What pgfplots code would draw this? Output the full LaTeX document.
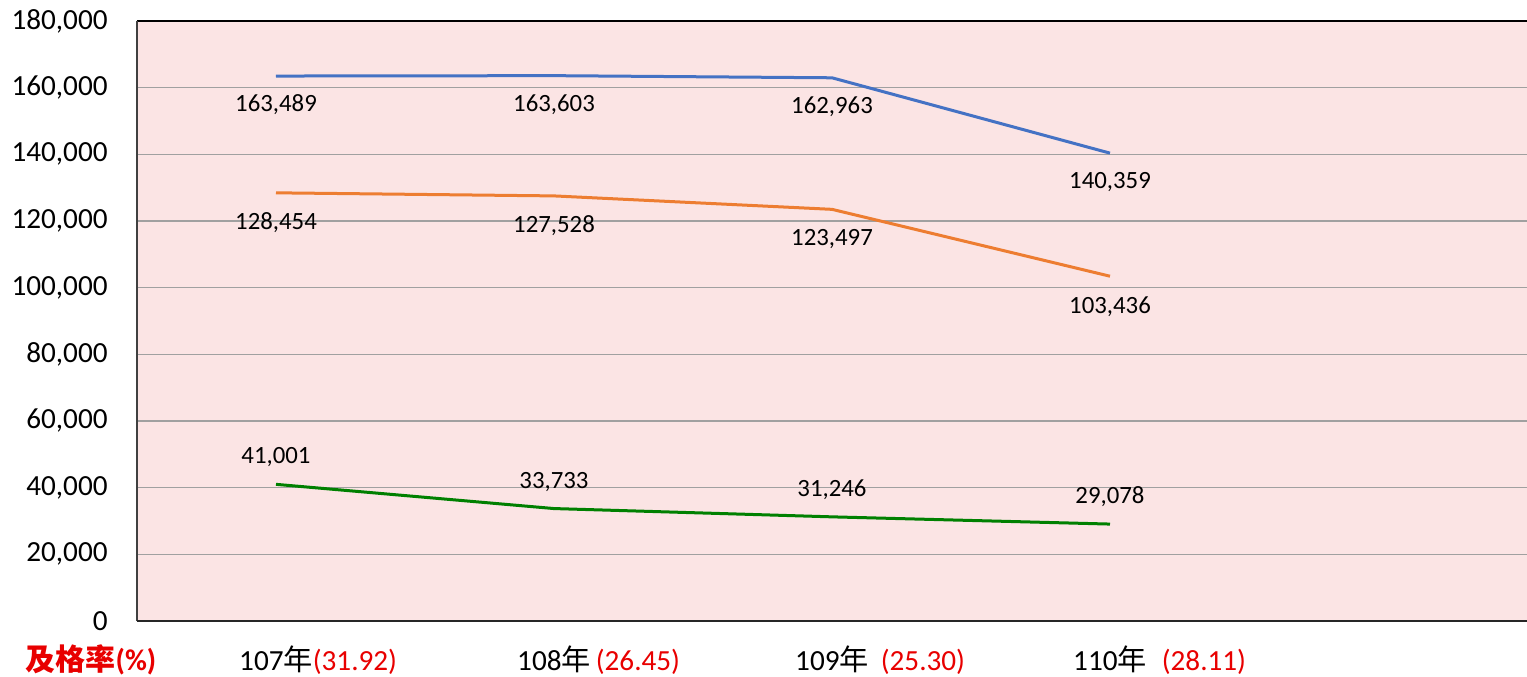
\documentclass[border=0pt]{standalone}
\usepackage{pgfplots}
\pgfplotsset{compat=1.18}
\usepackage{fontspec}
\setmainfont{Carlito}
\newfontfamily\cjk{Noto Sans CJK TC}
\definecolor{bgpink}{RGB}{251,228,228}
\definecolor{sblue}{RGB}{68,114,196}
\definecolor{sorange}{RGB}{237,125,49}
\definecolor{sgreen}{RGB}{0,128,0}
\definecolor{rred}{RGB}{232,0,0}
\definecolor{gridgray}{RGB}{160,160,160}
\begin{document}
\begin{tikzpicture}
\begin{axis}[
  name=ax, at={(0,0)}, anchor=south west,
  scale only axis, width=695pt, height=300pt,
  xmin=-0.5, xmax=4.5, ymin=0, ymax=180000,
  clip=false,
  axis background/.style={fill=bgpink},
  axis line style={draw=none},
  xtick={0,1,2,3},
  xticklabels={
    {107{\cjk 年}\rlap{\color{rred}(31.92)}},
    {108{\cjk 年}\rlap{\hspace{2.5pt}\color{rred}(26.45)}},
    {109{\cjk 年}\rlap{\hspace{6pt}\color{rred}(25.30)}},
    {110{\cjk 年}\rlap{\hspace{7.5pt}\color{rred}(28.11)}}},
  ytick={0,20000,40000,60000,80000,100000,120000,140000,160000,180000},
  ymajorgrids,
  grid style={draw=gridgray, line width=0.6pt},
  major tick length=0pt,
  scaled y ticks=false,
  /pgf/number format/fixed,
  /pgf/number format/precision=0,
  /pgf/number format/1000 sep={,},
  /pgf/number format/assume math mode=true,
  yticklabel style={font=\fontsize{14.6}{16}\selectfont, anchor=east, inner sep=0pt, xshift=-14.5pt},
  xticklabel style={font=\fontsize{14.6}{16}\selectfont, anchor=center, inner sep=0pt, yshift=-19.5pt},
  nodes near coords={\pgfmathprintnumber[fixed,precision=0,1000 sep={,},assume math mode=true]{\pgfplotspointmeta}},
  every node near coord/.append style={font=\fontsize{12.4}{14}\selectfont, text=black, anchor=center, inner sep=0pt},
]
\addplot[sblue, line width=1.5pt, line join=round,
  every node near coord/.append style={yshift=-14.5pt}]
  coordinates {(0,163489) (1,163603) (2,162963) (3,140359)};
\addplot[sorange, line width=1.5pt, line join=round,
  every node near coord/.append style={yshift=-15pt}]
  coordinates {(0,128454) (1,127528) (2,123497) (3,103436)};
\addplot[sgreen, line width=1.5pt, line join=round,
  every node near coord/.append style={yshift=13.5pt}]
  coordinates {(0,41001) (1,33733) (2,31246) (3,29078)};
\draw[black, line width=1.3pt] (rel axis cs:0,1) -- (rel axis cs:1,1);
\draw[black!75, line width=0.9pt] (rel axis cs:0,0) -- (rel axis cs:0,1);
\draw[black!85, line width=1.1pt] (rel axis cs:0,0) -- (rel axis cs:1,0);
\node[text=rred, font=\fontsize{15}{17}\selectfont\bfseries, inner sep=0pt, anchor=center]
  at (rel axis cs:-0.0331,-0.065) {{\cjk\bfseries 及格率}(\%)};
\end{axis}
\pgfresetboundingbox
\path[use as bounding box] ([shift={(-68.5pt,-27.5pt)}]ax.south west) rectangle ([shift={(0pt,10.5pt)}]ax.north east);
\end{tikzpicture}
\end{document}
